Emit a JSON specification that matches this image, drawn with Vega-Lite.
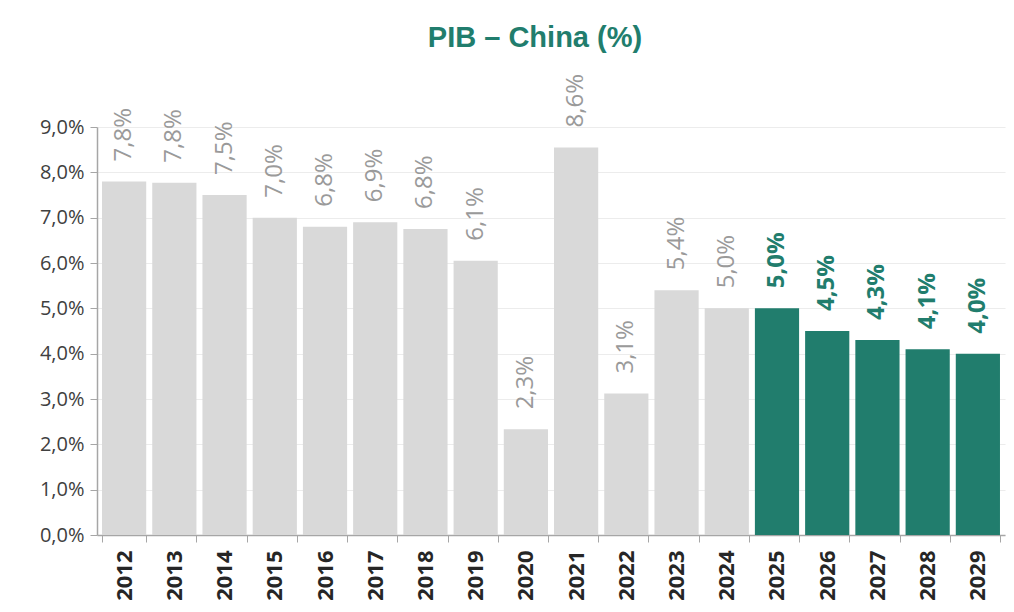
{
  "$schema": "https://vega.github.io/schema/vega-lite/v6.json",
  "width": 908,
  "height": 408,
  "autosize": {"type": "none"},
  "padding": {"left": 97, "top": 127, "right": 9, "bottom": 77},
  "background": "white",
  "title": {
    "text": "PIB – China (%)",
    "font": "Liberation Sans",
    "fontSize": 29,
    "fontWeight": "bold",
    "color": "#217d6d",
    "anchor": "middle",
    "dx": -16,
    "offset": 21
  },
  "config": {
    "view": {"stroke": null},
    "axis": {"labelFont": "Open Sans", "titleFont": "Open Sans"}
  },
  "data": {
    "values": [
      {"year": "2012", "value": 7.8, "label": "7,8%", "type": "hist"},
      {"year": "2013", "value": 7.77, "label": "7,8%", "type": "hist"},
      {"year": "2014", "value": 7.5, "label": "7,5%", "type": "hist"},
      {"year": "2015", "value": 7.0, "label": "7,0%", "type": "hist"},
      {"year": "2016", "value": 6.8, "label": "6,8%", "type": "hist"},
      {"year": "2017", "value": 6.9, "label": "6,9%", "type": "hist"},
      {"year": "2018", "value": 6.75, "label": "6,8%", "type": "hist"},
      {"year": "2019", "value": 6.05, "label": "6,1%", "type": "hist"},
      {"year": "2020", "value": 2.33, "label": "2,3%", "type": "hist"},
      {"year": "2021", "value": 8.55, "label": "8,6%", "type": "hist"},
      {"year": "2022", "value": 3.12, "label": "3,1%", "type": "hist"},
      {"year": "2023", "value": 5.4, "label": "5,4%", "type": "hist"},
      {"year": "2024", "value": 5.0, "label": "5,0%", "type": "hist"},
      {"year": "2025", "value": 5.0, "label": "5,0%", "type": "proj"},
      {"year": "2026", "value": 4.5, "label": "4,5%", "type": "proj"},
      {"year": "2027", "value": 4.3, "label": "4,3%", "type": "proj"},
      {"year": "2028", "value": 4.1, "label": "4,1%", "type": "proj"},
      {"year": "2029", "value": 4.0, "label": "4,0%", "type": "proj"}
    ]
  },
  "encoding": {
    "x": {
      "field": "year",
      "type": "ordinal",
      "scale": {"paddingInner": 0.12, "paddingOuter": 0.1},
      "axis": {
        "title": null,
        "labelAngle": 270,
        "labelFontSize": 22,
        "labelFontWeight": "bold",
        "labelColor": "#262626",
        "labelPadding": 8,
        "tickBand": "extent",
        "tickSize": 7,
        "tickColor": "#a6a6a6",
        "domainColor": "#a6a6a6",
        "domainWidth": 1.5,
        "grid": false
      }
    },
    "y": {
      "field": "value",
      "type": "quantitative",
      "scale": {"domain": [0, 9], "nice": false},
      "axis": {
        "title": null,
        "values": [0, 1, 2, 3, 4, 5, 6, 7, 8, 9],
        "labelExpr": "replace(format(datum.value, '.1f'), '.', ',') + '%'",
        "labelFontSize": 20,
        "labelColor": "#404040",
        "labelPadding": 6,
        "tickSize": 7,
        "tickColor": "#a6a6a6",
        "domainColor": "#a6a6a6",
        "domainWidth": 1.5,
        "gridColor": "#ececec",
        "gridWidth": 1.2
      }
    }
  },
  "layer": [
    {
      "mark": {"type": "bar"},
      "encoding": {
        "color": {
          "field": "type",
          "type": "nominal",
          "scale": {"domain": ["hist", "proj"], "range": ["#d9d9d9", "#217d6d"]},
          "legend": null
        }
      }
    },
    {
      "transform": [{"filter": "datum.type === 'hist'"}],
      "mark": {
        "type": "text",
        "angle": 270,
        "align": "left",
        "baseline": "middle",
        "yOffset": -20,
        "font": "Open Sans",
        "fontSize": 24,
        "color": "#9a9a9a"
      },
      "encoding": {
        "text": {"field": "label"}
      }
    },
    {
      "transform": [{"filter": "datum.type === 'proj'"}],
      "mark": {
        "type": "text",
        "angle": 270,
        "align": "left",
        "baseline": "middle",
        "yOffset": -20,
        "font": "Open Sans",
        "fontSize": 24,
        "fontWeight": "bold",
        "color": "#217d6d"
      },
      "encoding": {
        "text": {"field": "label"}
      }
    }
  ]
}
